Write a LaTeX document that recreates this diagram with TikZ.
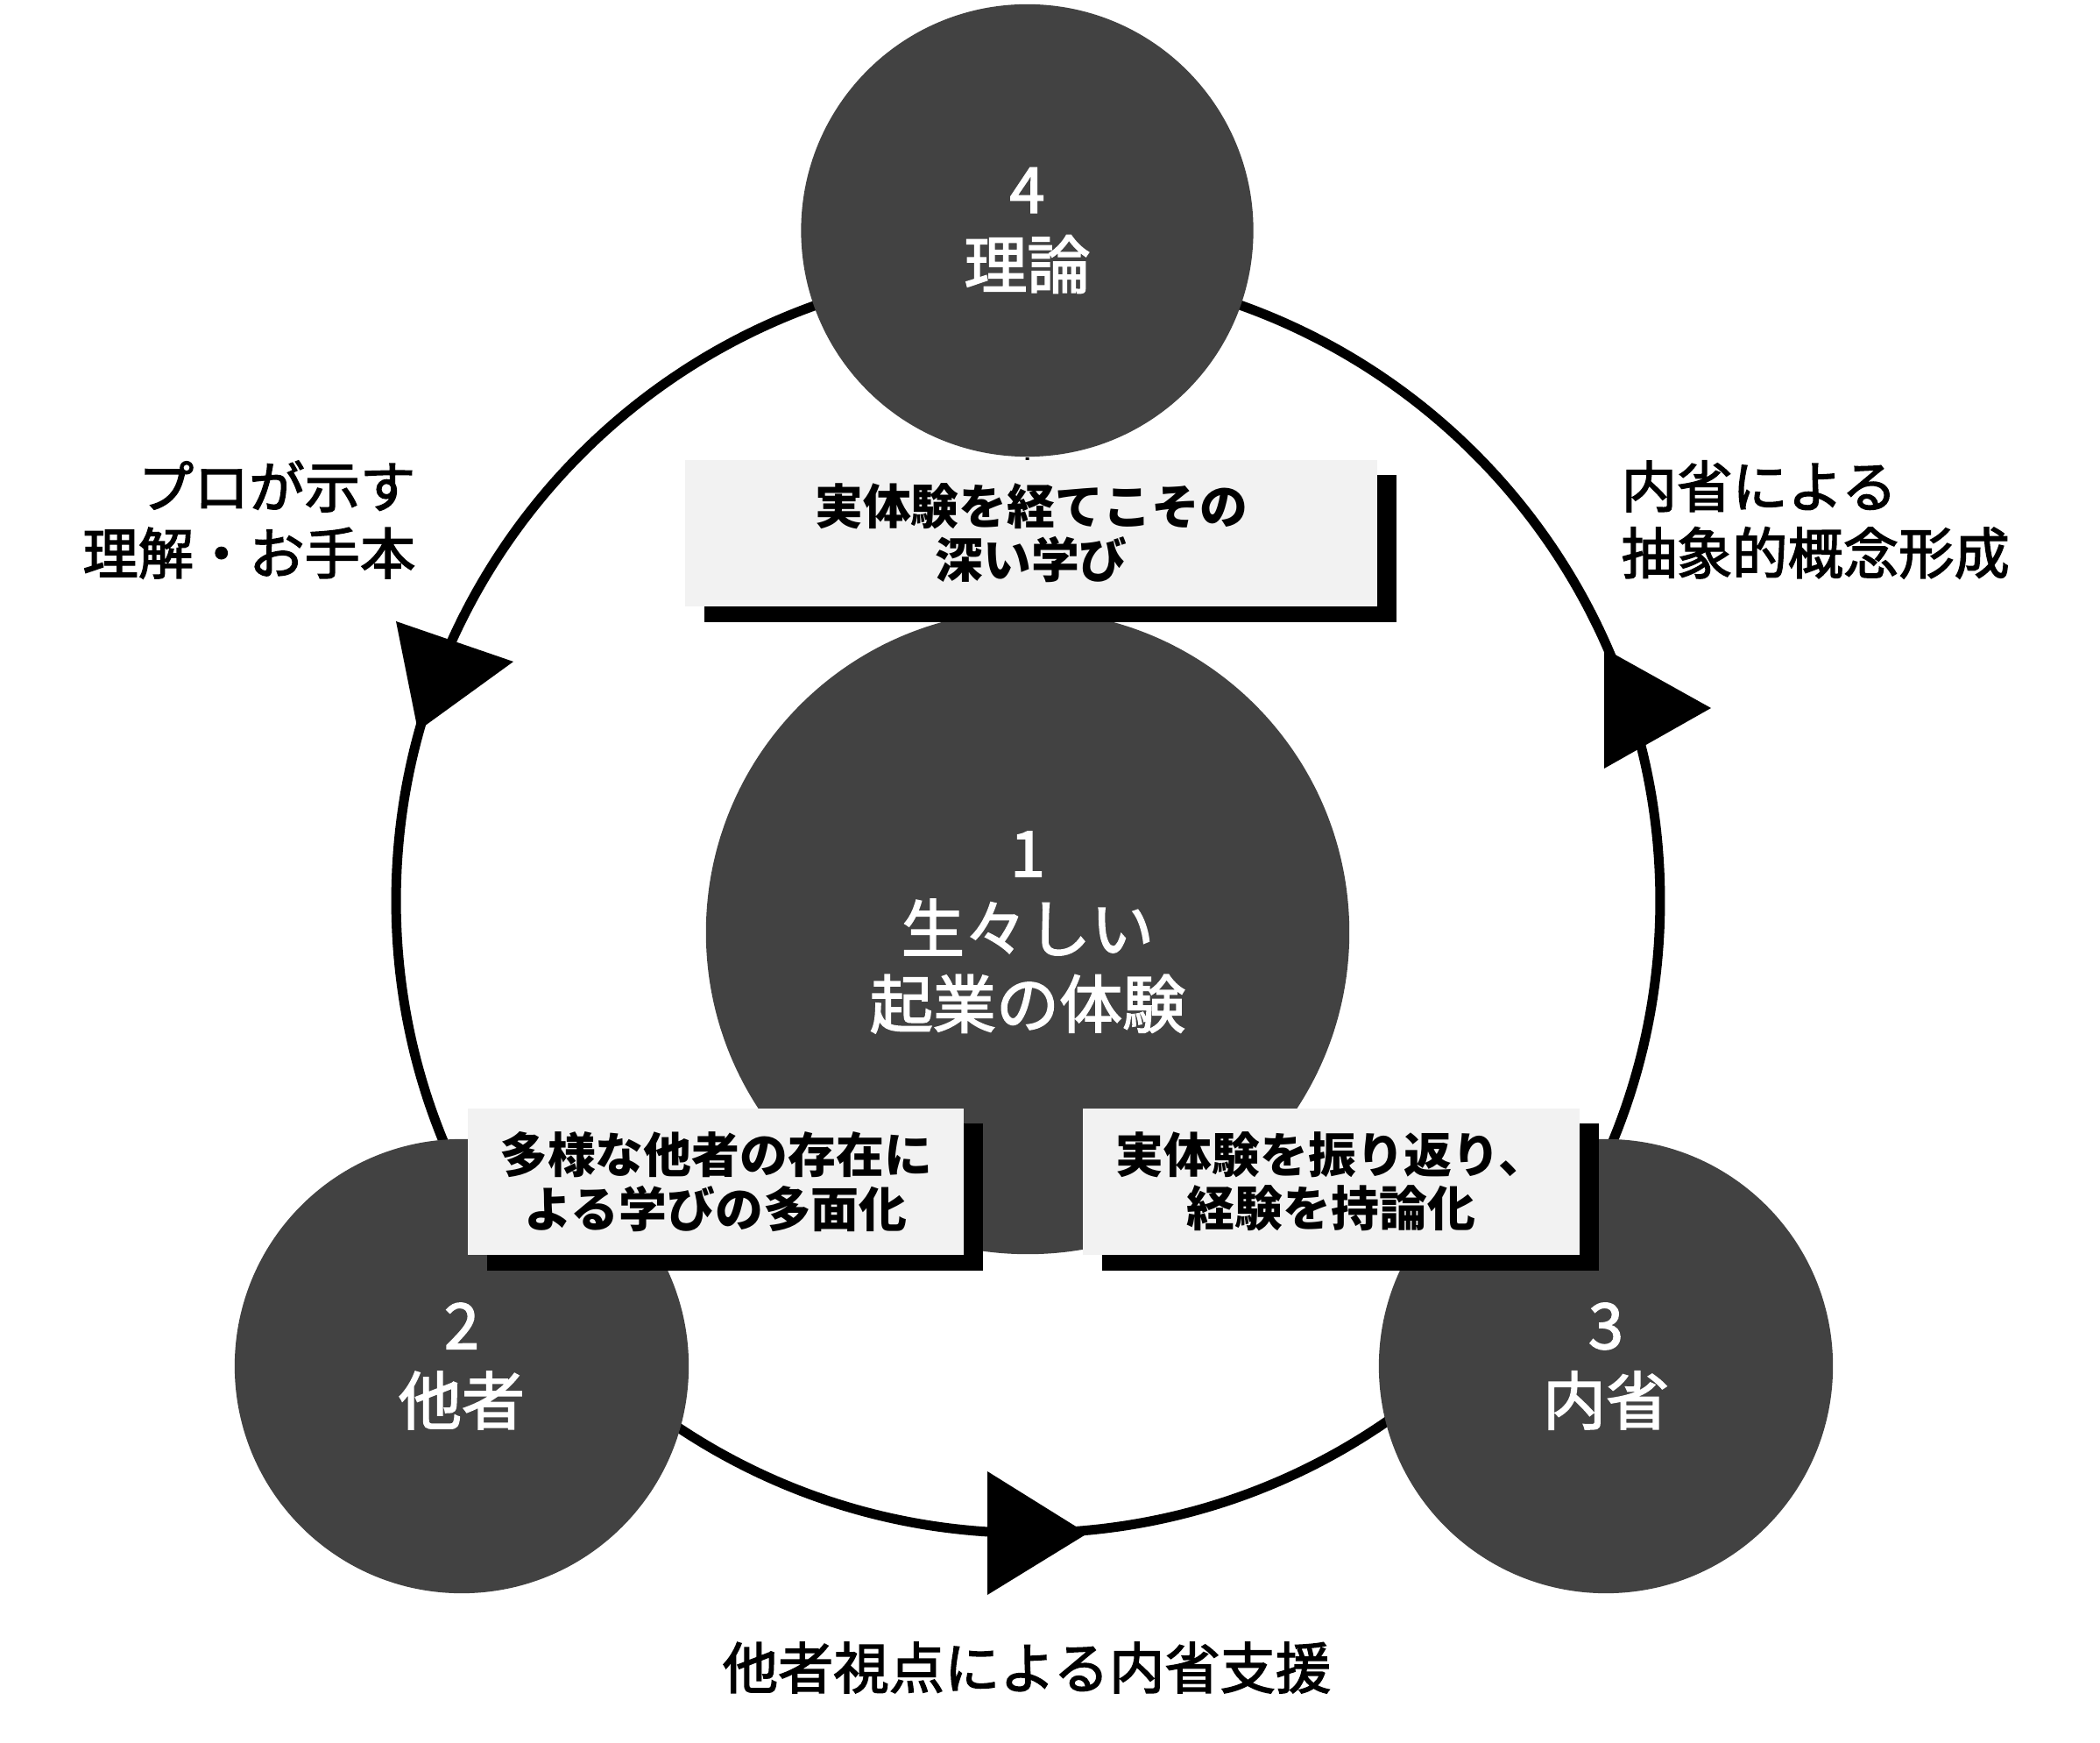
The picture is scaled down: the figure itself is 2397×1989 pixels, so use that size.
\documentclass[tikz,border=0pt]{standalone}
\usepackage{fontspec}
\setmainfont{Noto Sans CJK JP}
\newfontfamily\medfont[FakeBold=2.2]{Noto Sans CJK JP}
\usetikzlibrary{shadows}
\definecolor{circlegray}{HTML}{424242}
\definecolor{boxgray}{HTML}{F2F2F2}
\begin{document}
\begin{tikzpicture}[x=0.01cm,y=-0.01cm,
  ring/.style={line width=0.11cm, draw=black},
  bubble/.style={circle, fill=circlegray, text=white, inner sep=0, align=center,
    font=\medfont\fontsize{20.5pt}{24.5pt}\selectfont},
  notebox/.style={fill=boxgray, inner sep=0, align=center,
    font=\bfseries\fontsize{15.6pt}{17.4pt}\selectfont,
    drop shadow={shadow xshift=0.22cm, shadow yshift=-0.175cm, fill=black, opacity=1}},
  caption/.style={inner sep=0, font=\medfont\fontsize{18pt}{21.6pt}\selectfont},
  tip/.style={fill=black},
  tick/.style={line width=0.04cm, draw=black}]
\useasboundingbox (0,0) rectangle (2397,1989);
\coordinate (ringc) at (1173.5,1028);
\draw[ring] (ringc) circle[radius=7.21cm];
\fill[tip] (452,709) -- (586,755) -- (477,834) -- cycle;
\fill[tip] (1831,740) -- (1953,808) -- (1831,877) -- cycle;
\fill[tip] (1127,1679) -- (1241,1750) -- (1127,1820) -- cycle;
\node[bubble, minimum size=5.16cm] (n4) at (1172.5,263) {4\\理論};
\node[bubble, minimum size=7.34cm] (n1) at (1173,1064) {1\\生々しい\\起業の体験};
\node[bubble, minimum size=5.18cm] (n2) at (527,1559) {2\\他者};
\node[bubble, minimum size=5.18cm] (n3) at (1833,1559) {3\\内省};
\draw[tick] (n4) -- (n1);
\node[notebox, minimum width=7.9cm, minimum height=1.67cm] (bA) at (1177,608.5) {実体験を経てこその\\深い学び};
\node[notebox, minimum width=5.66cm, minimum height=1.67cm] (bB) at (817,1348.5) {多様な他者の存在に\\よる学びの多面化};
\node[notebox, minimum width=5.67cm, minimum height=1.67cm] (bC) at (1519.5,1348.5) {実体験を振り返り、\\経験を持論化};
\node[caption, anchor=east, align=right] (lL) at (475,593) {プロが示す\\理解・お手本};
\node[caption, anchor=west, align=left] (lR) at (1850,593) {内省による\\抽象的概念形成};
\node[caption] (lB) at (1172,1903) {他者視点による内省支援};
\end{tikzpicture}
\end{document}
